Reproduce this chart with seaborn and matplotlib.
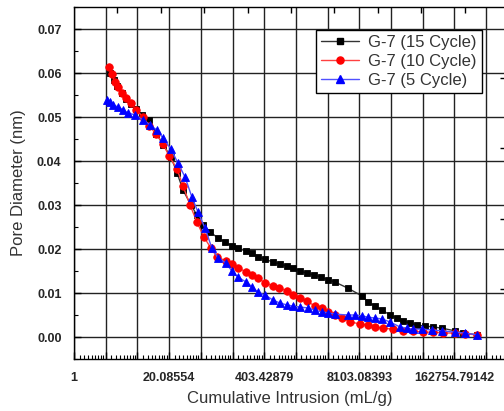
import numpy as np
import pandas as pd
import matplotlib
matplotlib.use("Agg")
import matplotlib.pyplot as plt
from matplotlib.ticker import FixedLocator, FixedFormatter, MultipleLocator, FormatStrFormatter, NullFormatter
from matplotlib.lines import Line2D
import seaborn as sns

# ---------------- data (x stored as natural log of cumulative intrusion, mL/g) ----------------
ln_intrusion_15 = [1.14, 1.25, 1.36, 1.50, 1.65, 1.80, 1.96, 2.15, 2.37, 2.60, 2.82, 3.06, 3.25, 3.44,
                   3.69, 3.88, 4.07, 4.29, 4.54, 4.76, 4.98, 5.17, 5.43, 5.62, 5.80, 6.03, 6.28, 6.50,
                   6.72, 6.91, 7.13, 7.35, 7.57, 7.79, 8.01, 8.23, 8.64, 9.09, 9.27, 9.50, 9.72, 9.97,
                   10.19, 10.38, 10.60, 10.82, 11.07, 11.32, 11.61, 12.02, 12.27, 12.71]
pore_15 = [0.0600, 0.0585, 0.0570, 0.0555, 0.0542, 0.0530, 0.0518, 0.0505, 0.0493, 0.0462, 0.0436, 0.0409,
           0.0373, 0.0334, 0.0300, 0.0277, 0.0255, 0.0239, 0.0225, 0.0216, 0.0207, 0.0202, 0.0195, 0.0191,
           0.0182, 0.0177, 0.0170, 0.0166, 0.0161, 0.0157, 0.0150, 0.0145, 0.0141, 0.0136, 0.0130, 0.0125,
           0.0111, 0.0093, 0.0080, 0.0070, 0.0061, 0.0050, 0.0043, 0.0036, 0.0032, 0.0027, 0.0025, 0.0023,
           0.0020, 0.0014, 0.0009, 0.0005]

ln_intrusion_10 = [1.10, 1.20, 1.29, 1.39, 1.51, 1.64, 1.80, 1.96, 2.18, 2.37, 2.59, 2.81, 3.00, 3.25,
                   3.44, 3.66, 3.88, 4.10, 4.32, 4.51, 4.79, 4.98, 5.17, 5.43, 5.62, 5.80, 6.03, 6.28,
                   6.47, 6.72, 6.91, 7.13, 7.35, 7.60, 7.82, 8.01, 8.23, 8.45, 8.71, 9.02, 9.27, 9.50,
                   9.75, 10.06, 10.38, 10.69, 11.01, 11.32, 11.64, 12.02, 12.33, 12.71]
pore_10 = [0.0614, 0.0598, 0.0580, 0.0568, 0.0555, 0.0543, 0.0532, 0.0516, 0.0500, 0.0480, 0.0461, 0.0439,
           0.0411, 0.0382, 0.0343, 0.0300, 0.0261, 0.0227, 0.0202, 0.0182, 0.0173, 0.0166, 0.0157, 0.0148,
           0.0141, 0.0134, 0.0123, 0.0116, 0.0111, 0.0105, 0.0095, 0.0089, 0.0082, 0.0070, 0.0066, 0.0057,
           0.0050, 0.0043, 0.0034, 0.0030, 0.0027, 0.0023, 0.0020, 0.0018, 0.0014, 0.0014, 0.0011, 0.0011,
           0.0009, 0.0009, 0.0007, 0.0005]

ln_intrusion_5 = [1.04, 1.14, 1.23, 1.39, 1.55, 1.70, 1.92, 2.18, 2.40, 2.62, 2.81, 3.06, 3.28, 3.50,
                  3.72, 3.91, 4.13, 4.35, 4.54, 4.79, 4.98, 5.17, 5.43, 5.62, 5.80, 6.03, 6.28, 6.50,
                  6.72, 6.91, 7.13, 7.38, 7.60, 7.82, 8.01, 8.23, 8.64, 8.86, 9.09, 9.27, 9.50, 9.72,
                  9.97, 10.28, 10.50, 10.69, 10.98, 11.29, 11.61, 12.02, 12.33, 12.71]
pore_5 = [0.0539, 0.0534, 0.0527, 0.0523, 0.0516, 0.0509, 0.0505, 0.0493, 0.0482, 0.0470, 0.0452, 0.0427,
          0.0395, 0.0364, 0.0318, 0.0284, 0.0248, 0.0202, 0.0180, 0.0168, 0.0150, 0.0136, 0.0125, 0.0114,
          0.0102, 0.0095, 0.0084, 0.0077, 0.0073, 0.0070, 0.0068, 0.0066, 0.0061, 0.0057, 0.0055, 0.0052,
          0.0050, 0.0050, 0.0048, 0.0045, 0.0043, 0.0041, 0.0034, 0.0023, 0.0020, 0.0018, 0.0018, 0.0016,
          0.0014, 0.0011, 0.0009, 0.0005]

series_labels = ["G-7 (15 Cycle)", "G-7 (10 Cycle)", "G-7 (5 Cycle)"]
x_tick_exponents = [0, 3, 6, 9, 12]
x_tick_labels = ["1", "20.08554", "403.42879", "8103.08393", "162754.79142"]
x_label = "Cumulative Intrusion (mL/g)"
y_label = "Pore Diameter (nm)"

# ---------------- style ----------------
sns.set_style("white")
plt.rcParams["font.family"] = ["Liberation Sans", "DejaVu Sans"]

fig = plt.figure(figsize=(5.04, 4.11), dpi=100)
ax = fig.add_axes([74 / 504, 52 / 411, 432 / 504, 352 / 411])

frames = []
for lnx, y, lab in zip([ln_intrusion_15, ln_intrusion_10, ln_intrusion_5],
                       [pore_15, pore_10, pore_5], series_labels):
    frames.append(pd.DataFrame({"intrusion": np.exp(lnx), "pore": y, "series": lab}))
df = pd.concat(frames, ignore_index=True)

styles = {
    series_labels[0]: dict(color="#000000", marker="s", markersize=4.6, lc="#333333"),
    series_labels[1]: dict(color="#ff0000", marker="o", markersize=5.4, lc="#ff4040"),
    series_labels[2]: dict(color="#0000ff", marker="^", markersize=6.3, lc="#5050ff"),
}
handles = []
for lab in series_labels:
    st = styles[lab]
    sub = df[df["series"] == lab]
    sns.lineplot(data=sub, x="intrusion", y="pore", ax=ax, sort=False, estimator=None,
                 color=st["lc"], linewidth=1.0, marker=st["marker"], markersize=st["markersize"],
                 markerfacecolor=st["color"], markeredgecolor=st["color"], markeredgewidth=0.6,
                 legend=False, zorder=3)
    handles.append(Line2D([], [], color=st["lc"], lw=1.0, marker=st["marker"],
                          markersize=st["markersize"] - 0.3, markerfacecolor=st["color"],
                          markeredgecolor=st["color"]))

ax.set_xscale("log", base=np.e)
ax.set_xlim(1, np.exp(432 / 31.7))
ax.set_ylim(-0.005, 0.075)

major_pos = [np.exp(k) for k in range(0, 14)]
major_lab = [x_tick_labels[x_tick_exponents.index(k)] if k in x_tick_exponents else "" for k in range(0, 14)]
ax.xaxis.set_major_locator(FixedLocator(major_pos))
ax.xaxis.set_major_formatter(FixedFormatter(major_lab))
minor_pos = [np.exp(k) * (1 + j * (np.e - 1) / 9) for k in range(0, 14) for j in range(1, 9)]
ax.xaxis.set_minor_locator(FixedLocator(minor_pos))
ax.xaxis.set_minor_formatter(NullFormatter())

ax.yaxis.set_major_locator(FixedLocator([i / 100 for i in range(0, 8)]))
ax.yaxis.set_major_formatter(FormatStrFormatter("%.2f"))
ax.yaxis.set_minor_locator(MultipleLocator(0.005))

ax.grid(True, which="major", color="#222222", linewidth=1.0)
ax.set_axisbelow(True)

ax.tick_params(axis="both", which="major", direction="in", length=5, width=1, color="black",
               labelsize=9, pad=9)
ax.tick_params(axis="both", which="minor", direction="in", length=3, width=0.8, color="black")
ax.tick_params(axis="x", which="both", bottom=True, top=False)
ax.tick_params(axis="y", which="both", left=True, right=False)
for t in ax.get_xticklabels() + ax.get_yticklabels():
    t.set_fontweight("bold")

for s in ["left", "bottom", "top"]:
    ax.spines[s].set_visible(True)
    ax.spines[s].set_color("black")
    ax.spines[s].set_linewidth(1.0)
ax.spines["right"].set_visible(False)

ax.set_xlabel(x_label, fontsize=12, color="#333333")
ax.set_ylabel(y_label, fontsize=12, color="#333333")
ax.xaxis.set_label_coords(0.5, -0.092)
ax.yaxis.set_label_coords(-0.112, 0.5)

# extra inward ticks on top and right frame (as in the original)
axt = ax.twiny()
axt.set_xlim(0, 432 / 43.4)
axt.set_xticks(range(1, 10))
axt.tick_params(axis="x", which="both", top=True, bottom=False, labeltop=False, direction="in",
                length=4, width=1, color="black")
axr = ax.twinx()
axr.set_ylim(352 / 70.5, 0)
axr.set_yticks(range(1, 5))
axr.tick_params(axis="y", which="both", right=True, left=False, labelright=False, direction="in",
                length=4, width=1, color="black")
for a in (axt, axr):
    for s in a.spines.values():
        s.set_visible(False)
    a.grid(False)

leg = ax.legend(handles, series_labels, loc="upper right", bbox_to_anchor=(0.944, 0.935),
                borderaxespad=0, fontsize=12, frameon=True, fancybox=False, framealpha=1,
                edgecolor="black", handlelength=2.3, handletextpad=0.55, labelspacing=0.25,
                borderpad=0.3)
leg.get_frame().set_linewidth(1.0)
for t in leg.get_texts():
    t.set_color("#333333")

fig.savefig("out.png", dpi=100)
